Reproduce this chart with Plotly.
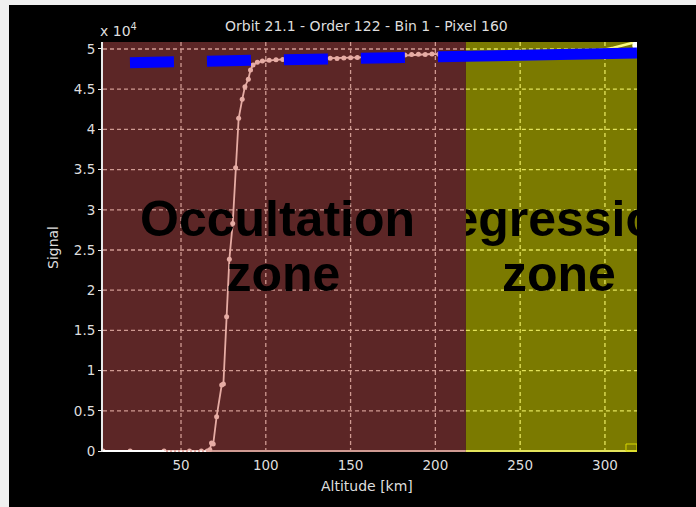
import plotly.graph_objects as go

# ---------------- data ----------------
alt_occ = [4.0, 20, 40, 55, 62, 65.5, 67.0, 68.0, 69.0, 71.0, 74.0, 75.0, 76.9, 78.5, 80.5,
           82.2, 84.0, 86.1, 87.7, 89.7, 91.0, 92.5, 95.0, 98.0, 102, 106, 110, 114, 118,
           122, 126, 130, 134, 138, 142, 146, 150, 154, 158, 162, 166, 170, 174, 178, 182,
           186, 190, 194, 198, 202, 206, 210, 214, 218]
sig_occ = [0, 0, 0, 0, 0, 0, 150, 1000, 870, 4270, 8200, 8330, 16700, 23840, 28300,
           35240, 41380, 43740, 45310, 46230, 47400, 48000, 48350, 48500, 48600, 48650, 48700, 48720, 48760,
           48740, 48800, 48820, 48800, 48850, 48830, 48880, 48900, 48950, 48920, 49000, 49050, 49020, 49100, 49150, 49250,
           49300, 49350, 49330, 49380, 49350, 49300, 49350, 49320, 49300]

alt_egr = [218, 225, 235, 245, 255, 265, 275, 285, 295, 300, 305, 310, 314, 316.5, 318.5]
sig_egr = [49300, 49400, 49450, 49500, 49550, 49600, 49700, 49750, 49850, 49950, 50150, 50400, 50650, 50780, 50450]

alt_low_white = [4.0, 40.0]
sig_low_white = [-60, -60]
alt_low_dots = [40.0, 66.0]
sig_low_dots = [-110, -110]

blue_dash_alt = [19.9, 202.1]
blue_dash_sig = [48300, 49030]
blue_solid_alt = [202.1, 318.9]
blue_solid_sig = [49030, 49500]

zone_edges = [4.0, 218.0, 318.9]
zone_names = ["Occultation", "egression"]

x_ticks = [50, 100, 150, 200, 250, 300]
y_ticks = [0, 5000, 10000, 15000, 20000, 25000, 30000, 35000, 40000, 45000, 50000]
y_tick_labels = ["0", "0.5", "1", "1.5", "2", "2.5", "3", "3.5", "4", "4.5", "5"]

title_text = "Orbit 21.1 - Order 122 - Bin 1 - Pixel 160"

# ---------------- style ----------------
X_RANGE = [zone_edges[0], zone_edges[-1]]
Y_RANGE = [-124, 50870]
L, R, T, B = 103, 59, 42, 55
W, H = 696, 507
FONT = "Liberation Sans, Arial, sans-serif"
SMALL = "DejaVu Sans, sans-serif"
RED_FILL = "#5c2626"
OLIVE_FILL = "#7b7a00"
PINK_GRID = "#cf9a92"
YELLOW_GRID = "#e4e45c"
PINK_LINE = "#e6aca4"
TXT = "#dedede"

fig = go.Figure()

# pink occultation series
fig.add_trace(go.Scatter(x=alt_occ, y=sig_occ, mode="lines+markers",
                         line=dict(color=PINK_LINE, width=1.8),
                         marker=dict(color=PINK_LINE, size=5),
                         showlegend=False, hoverinfo="skip"))
# white low-altitude part
fig.add_trace(go.Scatter(x=alt_low_white, y=sig_low_white, mode="lines",
                         line=dict(color="white", width=3),
                         showlegend=False, hoverinfo="skip"))
fig.add_trace(go.Scatter(x=alt_low_dots, y=sig_low_dots, mode="lines",
                         line=dict(color="white", width=3, dash="2px,2px"),
                         showlegend=False, hoverinfo="skip"))
# yellow egression series
fig.add_trace(go.Scatter(x=alt_egr, y=sig_egr, mode="lines",
                         line=dict(color="#fbfb80", width=2.5),
                         showlegend=False, hoverinfo="skip"))
fig.add_trace(go.Scatter(x=alt_egr[-1:], y=sig_egr[-1:], mode="markers",
                         marker=dict(color="white", size=8),
                         showlegend=False, hoverinfo="skip"))
# blue overlay line
fig.add_trace(go.Scatter(x=blue_dash_alt, y=blue_dash_sig, mode="lines",
                         line=dict(color="#0000ff", width=11, dash="44px,33px"),
                         showlegend=False, hoverinfo="skip"))
fig.add_trace(go.Scatter(x=blue_solid_alt, y=blue_solid_sig, mode="lines",
                         line=dict(color="#0000ff", width=11),
                         showlegend=False, hoverinfo="skip"))

# zone labels
BIG = dict(family=FONT, size=50, color="black")
fig.add_trace(go.Scatter(x=[106.9], y=[28300], mode="text", text=["<b>Occultation</b>"],
                         textposition="middle center", textfont=BIG,
                         showlegend=False, hoverinfo="skip"))
fig.add_trace(go.Scatter(x=[110.4], y=[21400], mode="text", text=["<b>zone</b>"],
                         textposition="middle center", textfont=BIG,
                         showlegend=False, hoverinfo="skip"))
fig.add_trace(go.Scatter(x=[278.5], y=[28300], mode="text", text=["<b>egression</b>"],
                         textposition="middle center", textfont=BIG, cliponaxis=True,
                         xaxis="x2", yaxis="y2", showlegend=False, hoverinfo="skip"))
fig.add_trace(go.Scatter(x=[272.9], y=[21400], mode="text", text=["<b>zone</b>"],
                         textposition="middle center", textfont=BIG, cliponaxis=True,
                         xaxis="x2", yaxis="y2", showlegend=False, hoverinfo="skip"))

shapes = []
pw = W - L - R
ph = H - T - B
# black window background (paper coords)
shapes.append(dict(type="rect", xref="paper", yref="paper", layer="below",
                   x0=(9 - L) / pw, x1=(W + 5 - L) / pw,
                   y0=(ph - (H + 5 - T)) / ph, y1=(ph - (5 - T)) / ph,
                   fillcolor="black", line=dict(width=0)))
zone_fill = [RED_FILL, OLIVE_FILL]
zone_grid = [PINK_GRID, YELLOW_GRID]
for i in range(2):
    x0, x1 = zone_edges[i], zone_edges[i + 1]
    shapes.append(dict(type="rect", xref="x", yref="y", layer="below",
                       x0=x0, x1=x1, y0=Y_RANGE[0], y1=Y_RANGE[1],
                       fillcolor=zone_fill[i], line=dict(width=0)))
    for yv in y_ticks:
        shapes.append(dict(type="line", xref="x", yref="y", layer="below",
                           x0=x0, x1=x1, y0=yv, y1=yv,
                           line=dict(color=zone_grid[i], width=1.3 if yv else 2,
                                     dash="solid" if yv == 0 else "4px,3px")))
    for xv in x_ticks:
        if x0 < xv < x1:
            shapes.append(dict(type="line", xref="x", yref="y", layer="below",
                               x0=xv, x1=xv, y0=Y_RANGE[0], y1=Y_RANGE[1],
                               line=dict(color=zone_grid[i], width=1.3, dash="4px,3px")))
# zone boundary
shapes.append(dict(type="line", xref="x", yref="paper", layer="below",
                   x0=zone_edges[1], x1=zone_edges[1], y0=0, y1=1,
                   line=dict(color="black", width=2)))
# small legend box artifact bottom right
shapes.append(dict(type="rect", xref="x", yref="y", layer="above",
                   x0=312.4, x1=318.9, y0=0, y1=870,
                   fillcolor="rgba(0,0,0,0)", line=dict(color="#d8d800", width=1)))

ann = [
    dict(text=title_text, xref="paper", yref="paper",
         x=(366.5 - L) / pw, y=1 + (T - 26) / ph, xanchor="center", yanchor="middle",
         showarrow=False, font=dict(family=SMALL, size=14, color=TXT)),
    dict(text="x 10<sup>4</sup>", xref="paper", yref="paper",
         x=(98 - L) / pw, y=1 + (T - 30) / ph, xanchor="left", yanchor="middle",
         showarrow=False, font=dict(family=SMALL, size=14, color=TXT)),
    dict(text="Signal", xref="paper", yref="paper", textangle=-90,
         x=(53 - L) / pw, y=(H - B - 248) / ph, xanchor="center", yanchor="middle",
         showarrow=False, font=dict(family=SMALL, size=14, color=TXT)),
    dict(text="Altitude [km]", xref="paper", yref="paper",
         x=(366.7 - L) / pw, y=(H - B - 486) / ph, xanchor="center", yanchor="middle",
         showarrow=False, font=dict(family=SMALL, size=14, color=TXT)),
]

egr_dom0 = (zone_edges[1] - X_RANGE[0]) / (X_RANGE[1] - X_RANGE[0])

fig.update_layout(
    width=W, height=H,
    margin=dict(l=L, r=R, t=T, b=B, pad=0),
    paper_bgcolor="#f0f0f0",
    plot_bgcolor="rgba(0,0,0,0)",
    shapes=shapes,
    annotations=ann,
    xaxis=dict(range=X_RANGE, domain=[0, 1], tickvals=x_ticks, ticktext=[str(v) for v in x_ticks],
               showgrid=False, zeroline=False, showline=False,
               ticks="outside", ticklen=1, tickcolor="rgba(0,0,0,0)",
               tickfont=dict(family=SMALL, size=13.5, color=TXT)),
    yaxis=dict(range=Y_RANGE, tickvals=y_ticks, ticktext=y_tick_labels,
               showgrid=False, zeroline=False, showline=True, linecolor="#e8e8e8", linewidth=2,
               ticks="outside", ticklen=3, tickcolor="#e8e8e8", tickwidth=1,
               tickfont=dict(family=SMALL, size=13.5, color=TXT)),
    xaxis2=dict(range=[zone_edges[1], X_RANGE[1]], domain=[egr_dom0, 1], anchor="y2",
                visible=False, fixedrange=True),
    yaxis2=dict(range=Y_RANGE, domain=[0, 1], anchor="x2", visible=False, fixedrange=True),
)

fig.write_html(
    "out.html",
    config={"displayModeBar": False},
    post_script="document.body.style.margin='0';document.body.style.background='#f0f0f0';",
)
